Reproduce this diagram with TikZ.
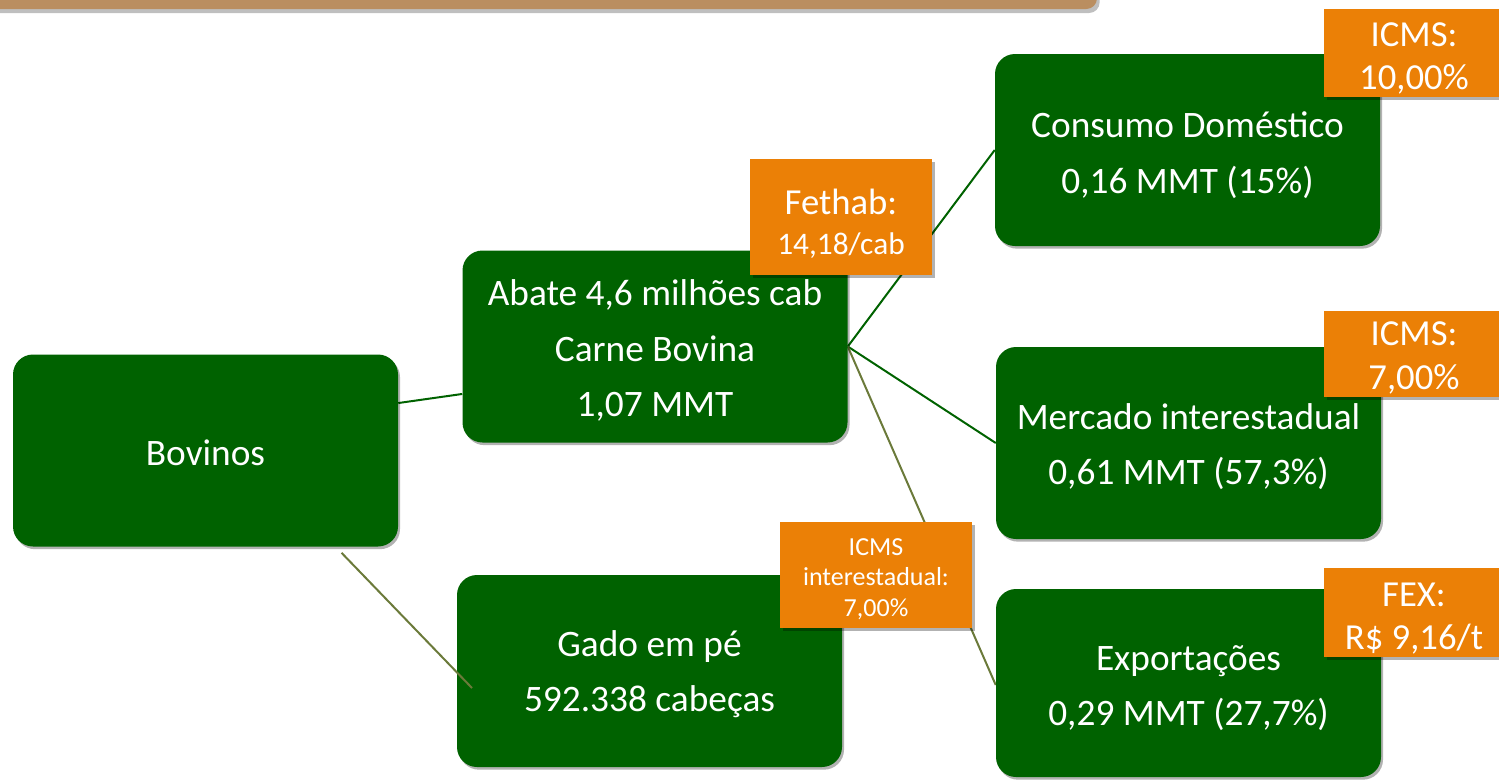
\documentclass[tikz,border=0pt]{standalone}
\usepackage{fontspec}
\setmainfont{Carlito}
\usetikzlibrary{shadows,backgrounds}
\definecolor{boxgreen}{RGB}{0,98,0}
\definecolor{tagorange}{RGB}{235,128,6}
\definecolor{olive}{RGB}{107,122,58}
\definecolor{tan}{RGB}{186,142,96}
\tikzset{
  greenbox/.style={fill=boxgreen, rounded corners=15pt, minimum width=288.75pt, minimum height=144pt,
    inner sep=0pt,
    drop shadow={shadow xshift=1.5pt, shadow yshift=-2pt, opacity=0.3, fill=black}},
  boxtext/.style={inner sep=0pt, align=center, text=white, font=\fontsize{28}{41.5}\selectfont},
  tagbox/.style={fill=tagorange, inner sep=0pt,
    drop shadow={shadow xshift=2pt, shadow yshift=-2pt, opacity=0.3, fill=black}},
  tagtext/.style={inner sep=0pt, align=center, text=white, font=\fontsize{27.5}{32.5}\selectfont},
  darkline/.style={draw=boxgreen, line width=1.5pt},
  oliveline/.style={draw=olive, line width=1.5pt}
}
\begin{document}
\begin{tikzpicture}[x=0.75pt,y=-0.75pt]
\useasboundingbox (0,0) rectangle (1499,779);
% tan header bar
\fill[tan, rounded corners=8pt, drop shadow={shadow xshift=2pt, shadow yshift=-3pt, opacity=0.25, fill=black}]
  (-30,-30) rectangle (1097,9);
% green boxes
\node[greenbox] (bov) at (205.5,450.5) {};
\node[greenbox] (abate) at (655,346.5) {};
\node[greenbox] (gado) at (649.5,671) {};
\node[greenbox] (cons) at (1187.5,150) {};
\node[greenbox] (merc) at (1188.5,443) {};
\node[greenbox, minimum height=141pt] (exp) at (1188.5,683) {};
\node[boxtext] (bovT) at ([yshift=-1.5pt]bov.center) {Bovinos};
\node[boxtext] (abateT) at ([yshift=-3pt]abate.center) {Abate 4,6 milhões cab\\Carne Bovina\\1,07 MMT};
\node[boxtext] (gadoT) at ([yshift=-2.5pt]gado.center) {Gado em pé\\592.338 cabeças};
\node[boxtext] (consT) at ([yshift=-4pt]cons.center) {Consumo Doméstico\\0,16 MMT (15\%)};
\node[boxtext] (mercT) at ([yshift=-2.5pt]merc.center) {Mercado interestadual\\0,61 MMT (57,3\%)};
\node[boxtext] (expT) at ([yshift=-4pt]exp.center) {Exportações\\0,29 MMT (27,7\%)};
% connectors
\begin{scope}[on background layer]
\draw[darkline] ([yshift=35.6pt]bov.east) -- ([yshift=-35.6pt]abate.west);
\draw[darkline] (abate.east) -- (cons.west);
\draw[darkline] (abate.east) -- (merc.west);
\draw[oliveline] (abate.east) -- ([yshift=-1.5pt]exp.west);
\end{scope}
\coordinate (gadoend) at (472,688);
\draw[oliveline] ([xshift=102pt, yshift=-4.5pt]bov.south) -- (gadoend);
% orange tags
\node[tagbox, minimum width=136.5pt, minimum height=87pt] (fethab) at (841,217) {};
\node[tagtext, font=\fontsize{27.5}{30}\selectfont] (fethabT) at ([yshift=-5pt]fethab.center)
  {Fethab:\\{\fontsize{23.5}{30}\selectfont 14,18/cab}};
\node[tagbox, minimum width=144pt, minimum height=79.5pt] (icmsi) at (876,575) {};
\node[tagtext, font=\fontsize{19.5}{23}\selectfont] (icmsiT) at ([yshift=-3pt]icmsi.center)
  {ICMS\\interestadual:\\7,00\%};
\node[tagbox, minimum width=135pt, minimum height=66pt] (icms10) at (1414,53) {};
\node[tagtext] (icms10T) at ([yshift=-4pt]icms10.center) {ICMS:\\10,00\%};
\node[tagbox, minimum width=135pt, minimum height=64.5pt] (icms7) at (1414,354) {};
\node[tagtext] (icms7T) at ([yshift=-3pt]icms7.center) {ICMS:\\7,00\%};
\node[tagbox, minimum width=135pt, minimum height=66.75pt] (fex) at (1414,612.5) {};
\node[tagtext] (fexT) at ([yshift=-4.5pt]fex.center) {FEX:\\R\$ 9,16/t};
\end{tikzpicture}
\end{document}
